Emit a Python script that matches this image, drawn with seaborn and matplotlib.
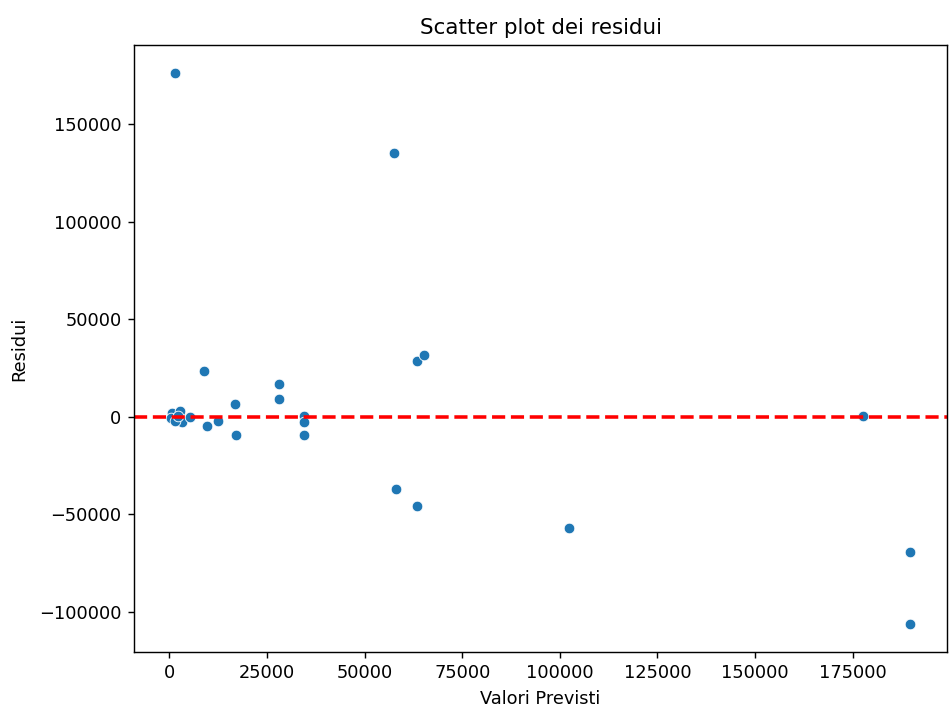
import matplotlib
matplotlib.use("Agg")
import matplotlib.pyplot as plt
import seaborn as sns
import pandas as pd

valori_previsti = [1536, 57600, 8960, 28160, 28160, 16900, 17150, 9730, 12540,
                   34560, 34560, 34560, 63500, 65300, 58100, 63500, 102400,
                   177700, 189700, 189700,
                   600, 400, 2800, 3200, 5300, 1400, 2300]
residui = [176600, 135300, 23600, 16900, 9300, 6700, -9200, -4600, -2000,
           300, -2600, -9200, 28700, 31700, -36900, -45600, -56900,
           300, -69600, -106500,
           2100, -400, 2900, -2600, 0, -2200, 300]

df = pd.DataFrame({"Valori Previsti": valori_previsti, "Residui": residui})

DPI = 128
fig = plt.figure(figsize=(949/DPI, 708/DPI), dpi=DPI)
ax = fig.add_axes([134/949, 1 - 652/708, (947-134)/949, (652-45)/708])
sns.scatterplot(data=df, x="Valori Previsti", y="Residui", ax=ax)
ax.axhline(0, color="red", linestyle="--", linewidth=2)
ax.set_title("Scatter plot dei residui")
ax.set_xlabel("Valori Previsti")
ax.set_ylabel("Residui", labelpad=6)
fig.savefig("out.png", dpi=DPI)
